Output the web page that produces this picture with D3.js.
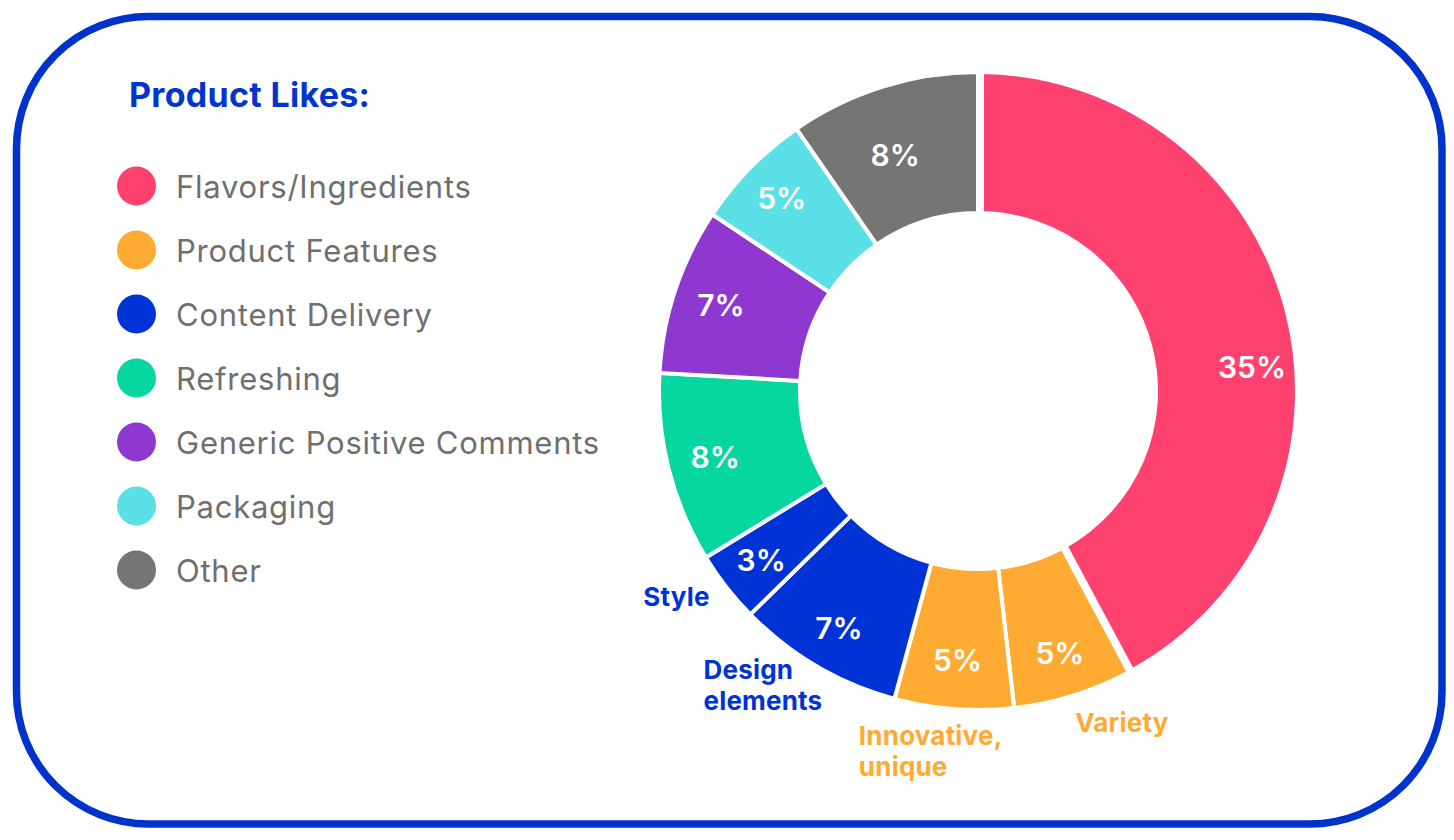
<!DOCTYPE html>
<html>
<head>
<meta charset="utf-8">
<script src="https://cdn.jsdelivr.net/npm/d3@7"></script>
<style>
  html, body { margin: 0; padding: 0; background: #ffffff; }
  svg { display: block; }
  text { font-family: Inter, "Noto Sans", sans-serif; }
</style>
</head>
<body>
<svg id="chart" width="1454" height="840"></svg>
<script>
// ---- data ----
const title = "Product Likes:";
const categories = ["Flavors/Ingredients", "Product Features", "Content Delivery", "Refreshing", "Generic Positive Comments", "Packaging", "Other"];
const categoryColors = ["#FF4170", "#FFAA33", "#0033D6", "#06D6A0", "#8E38D0", "#5CE0E8", "#757575"];
const sliceNames = ["Flavors/Ingredients", "Variety", "Innovative, unique", "Design elements", "Style", "Refreshing", "Generic Positive Comments", "Packaging", "Other"];
const sliceValues = [35, 5, 5, 7, 3, 8, 7, 5, 8];
const sliceCategory = [0, 1, 1, 2, 2, 3, 4, 5, 6];
const sliceSubLabels = [null, ["Variety"], ["Innovative,", "unique"], ["Design", "elements"], ["Style"], null, null, null, null];

// ---- layout ----
const svg = d3.select("#chart");
const W = 1454, H = 840;

// rounded frame
svg.append("rect")
  .attr("x", 16.5).attr("y", 16.5)
  .attr("width", 1425.5).attr("height", 807.5)
  .attr("rx", 132).attr("ry", 132)
  .attr("fill", "#ffffff")
  .attr("stroke", "#0033CC")
  .attr("stroke-width", 7.5);

// title
svg.append("text")
  .attr("x", 129).attr("y", 107)
  .attr("fill", "#0035CF")
  .attr("font-size", 34)
  .attr("font-weight", 700)
  .attr("letter-spacing", 0.3)
  .text(title);

// legend
const legend = svg.append("g");
const legendY = d3.scaleBand().domain(categories).range([154, 602]);
const lg = legend.selectAll("g").data(categories).join("g")
  .attr("transform", d => `translate(0, ${legendY(d) + legendY.bandwidth() / 2})`);
lg.append("circle")
  .attr("cx", 136.5).attr("cy", 0).attr("r", 19.5)
  .attr("fill", (d, i) => categoryColors[i]);
lg.append("text")
  .attr("x", 176).attr("y", 11.5)
  .attr("fill", "#6F6F6F")
  .attr("font-size", 31)
  .attr("font-weight", 400)
  .attr("letter-spacing", 0.75)
  .text(d => d);

// donut
const cx = 978, cy = 391;
const outerR = 319, innerR = 178;
const slices = sliceNames.map((n, i) => ({
  name: n, value: sliceValues[i], color: categoryColors[sliceCategory[i]], sub: sliceSubLabels[i]
}));
const pie = d3.pie().sort(null).value(d => d.value);
const arcs = pie(slices);
const arc = d3.arc()
  .innerRadius(innerR).outerRadius(outerR)
  .padRadius(Math.sqrt(innerR * innerR + outerR * outerR))
  .padAngle(d => d.index === 0 ? 0.022 : 0);

const g = svg.append("g").attr("transform", `translate(${cx},${cy})`);
g.selectAll("path").data(arcs).join("path")
  .attr("d", arc)
  .attr("fill", d => d.data.color)
  .attr("stroke", "#ffffff")
  .attr("stroke-width", 4)
  .attr("stroke-linejoin", "miter");

// value labels
const labelRadius = { 2: 270, 5: 271, 6: 271, 8: 250 };
function labelAngle(d) {
  const mid = (d.startAngle + d.endAngle) / 2;
  if (d.index === 0) return mid + 0.16;
  if (d.index === 8) return mid - 0.035;
  return mid;
}
function labelR(d) { return labelRadius[d.index] || 275; }
g.selectAll("text.val").data(arcs).join("text")
  .attr("class", "val")
  .attr("x", d => labelR(d) * Math.sin(labelAngle(d)))
  .attr("y", d => -labelR(d) * Math.cos(labelAngle(d)))
  .attr("dy", "0.36em")
  .attr("text-anchor", "middle")
  .attr("fill", "#ffffff")
  .attr("font-size", 30)
  .attr("font-weight", 600)
  .text(d => d.data.value + "%");

// sub-category labels outside the ring (left-aligned blocks centred on a point)
const subNudge = { 1: -0.115, 2: 0.047, 3: 0.096, 4: 0.061 };
const subR = 362;
const lineH = 31;
const subG = g.selectAll("g.sub").data(arcs.filter(d => d.data.sub)).join("g")
  .attr("class", "sub");
const subT = subG.append("text")
  .attr("text-anchor", "start")
  .attr("fill", d => d.data.color)
  .attr("font-size", 26)
  .attr("font-weight", 700)
  .attr("letter-spacing", 0.2);
subT.selectAll("tspan").data(d => d.data.sub).join("tspan")
  .attr("x", 0)
  .attr("dy", (t, i) => i === 0 ? "0.36em" : lineH)
  .text(t => t);
subG.attr("transform", function (d) {
  const a = (d.startAngle + d.endAngle) / 2 + (subNudge[d.index] || 0);
  const n = d.data.sub.length;
  let w = 0;
  d3.select(this).selectAll("tspan").each(function () { w = Math.max(w, this.getComputedTextLength()); });
  return `translate(${subR * Math.sin(a) - w / 2 - 3},${-subR * Math.cos(a) - (n - 1) * lineH / 2 + 1})`;
});
</script>
</body>
</html>
